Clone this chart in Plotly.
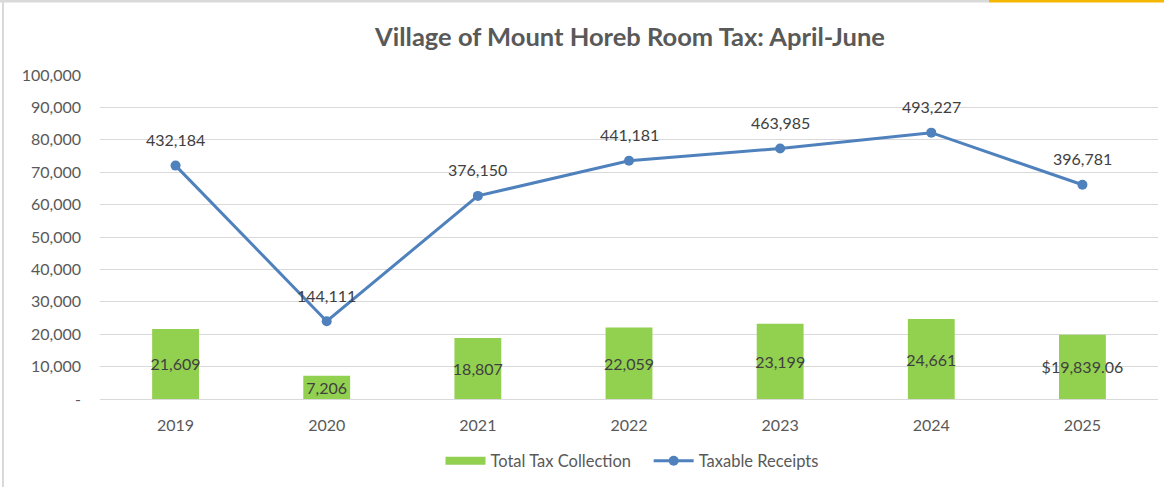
import plotly.graph_objects as go

years = ["2019", "2020", "2021", "2022", "2023", "2024", "2025"]
tax_collection = [21609, 7206, 18807, 22059, 23199, 24661, 19839.06]
tax_labels = ["21,609", "7,206", "18,807", "22,059", "23,199", "24,661", "$19,839.06"]
taxable_receipts = [432184, 144111, 376150, 441181, 463985, 493227, 396781]
y_ticks = [0, 10000, 20000, 30000, 40000, 50000, 60000, 70000, 80000, 90000, 100000]
y_tick_text = ["-", "10,000", "20,000", "30,000", "40,000", "50,000", "60,000",
               "70,000", "80,000", "90,000", "100,000"]

W, H = 1164, 487
ML, MR, MT, MB = 100, 6, 75, 88
FONT = "Lato"
GREEN = "#92d050"
BLUE = "#4f81bd"

fig = go.Figure()
fig.add_trace(go.Bar(
    x=years, y=tax_collection, name="Total Tax Collection",
    marker=dict(color=GREEN, line=dict(width=0)),
    text=tax_labels, textposition="inside", insidetextanchor="middle",
    textangle=0, constraintext="none", cliponaxis=False,
    textfont=dict(family=FONT, size=16, color="#404040"),
    hoverinfo="skip", showlegend=False,
))
# legend-only entry drawn as a wide green band, like the reference's legend key
fig.add_trace(go.Scatter(
    x=[None], y=[None], name="Total Tax Collection&nbsp;&nbsp;&nbsp;",
    mode="lines", line=dict(color=GREEN, width=8), showlegend=True,
))
fig.add_trace(go.Scatter(
    x=years, y=taxable_receipts, name="Taxable Receipts", yaxis="y2",
    mode="lines+markers",
    line=dict(color=BLUE, width=3),
    marker=dict(color=BLUE, size=10),
    cliponaxis=False,
))

# category index positions for the labels above the line points
annotations = [
    dict(x=i, y=v, xref="x", yref="y2", text=f"{v:,}", showarrow=False,
         yshift=26, font=dict(family=FONT, size=16, color="#404040"))
    for i, v in enumerate(taxable_receipts)
]

def px_x(p):
    return (p - ML) / (W - ML - MR)

def px_y(p):
    return 1 - (p - MT) / (H - MT - MB)

shapes = [
    dict(type="line", xref="paper", yref="paper", x0=px_x(3), x1=px_x(3),
         y0=px_y(0), y1=px_y(H), line=dict(color="#d9d9d9", width=2)),
    dict(type="line", xref="paper", yref="paper", x0=px_x(0), x1=px_x(989),
         y0=px_y(1), y1=px_y(1), line=dict(color="#d9d9d9", width=3)),
    dict(type="line", xref="paper", yref="paper", x0=px_x(989), x1=px_x(W),
         y0=px_y(1), y1=px_y(1), line=dict(color="#f5b800", width=3)),
]

fig.update_layout(
    width=W, height=H,
    margin=dict(l=ML, r=MR, t=MT, b=MB, autoexpand=False),
    paper_bgcolor="white", plot_bgcolor="white",
    font=dict(family=FONT, color="#595959"),
    title=dict(text="<b>Village of Mount Horeb Room Tax: April-June</b>",
               x=630 / W, xanchor="center", xref="container",
               y=1 - 37 / H, yanchor="middle", yref="container",
               font=dict(family=FONT, size=25.5, color="#595959")),
    bargap=0.69,
    showlegend=True,
    legend=dict(orientation="h", x=px_x(632), xanchor="center",
                y=px_y(461), yanchor="middle",
                font=dict(family=FONT, size=16.5, color="#595959"),
                traceorder="normal", itemwidth=40),
    xaxis=dict(type="category", showgrid=False, showline=True, linecolor="#d9d9d9",
               linewidth=1, ticks="",
               tickfont=dict(family=FONT, size=16, color="#595959"),
               ticklabelstandoff=12),
    yaxis=dict(range=[0, 100000], tickvals=y_ticks, ticktext=y_tick_text,
               showgrid=True, gridcolor="#d9d9d9", gridwidth=1,
               zeroline=False, showline=False, ticks="",
               tickfont=dict(family=FONT, size=16, color="#595959"),
               ticklabelstandoff=18),
    yaxis2=dict(range=[0, 600000], overlaying="y", side="right", visible=False,
                showgrid=False),
    shapes=shapes,
    annotations=annotations,
)

fig.write_html("out.html", config={"displayModeBar": False},
               post_script="document.body.style.margin='0';document.body.style.overflow='hidden';")
